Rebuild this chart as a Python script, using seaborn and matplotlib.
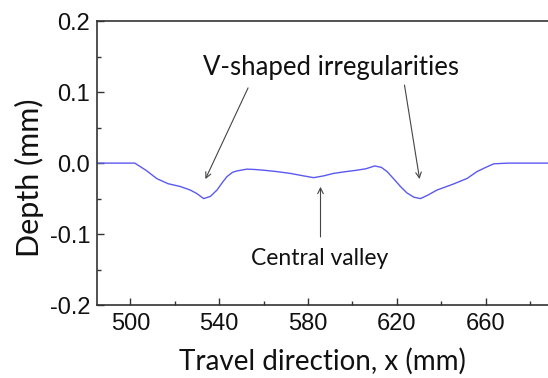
import matplotlib
matplotlib.use("Agg")
import matplotlib.pyplot as plt
import seaborn as sns
import pandas as pd
from matplotlib.ticker import MultipleLocator

# Data
x_mm = [485, 495, 502, 507, 512, 517, 522.5, 527, 530, 533, 536, 539, 541.5, 543.5, 546, 548,
        552.5, 556, 560, 566, 572, 578, 582.5, 587, 591.5, 597, 602, 606, 610, 613, 615.6,
        618.5, 621.6, 624.5, 627.6, 630.6, 634, 638, 645, 651.6, 656, 660, 663.6, 670, 680, 690]
depth_mm = [0.0, 0.0, 0.0, -0.010, -0.022, -0.029, -0.033, -0.038, -0.043, -0.050, -0.047, -0.038,
            -0.027, -0.019, -0.013, -0.011, -0.0085, -0.009, -0.010, -0.012, -0.0145, -0.018,
            -0.0205, -0.018, -0.0145, -0.012, -0.010, -0.008, -0.004, -0.006, -0.012, -0.022,
            -0.033, -0.042, -0.048, -0.050, -0.045, -0.038, -0.030, -0.0216, -0.012, -0.006,
            -0.001, 0.0, 0.0, 0.0]

x_ticks = [500, 540, 580, 620, 660]
y_ticks = [-0.2, -0.1, 0.0, 0.1, 0.2]
y_tick_labels = ["-0.2", "-0.1", "0.0", "0.1", "0.2"]

df = pd.DataFrame({"x": x_mm, "depth": depth_mm})

sns.set_style("ticks")
plt.rcParams["font.family"] = ["Liberation Sans", "DejaVu Sans"]

fig = plt.figure(figsize=(5.48, 3.78), dpi=100)
ax = fig.add_axes([0.177, 0.193, 0.823, 0.751])

sns.lineplot(data=df, x="x", y="depth", ax=ax, color="#5a5af0", linewidth=1.0)

ax.set_xlim(485, 688)
ax.set_ylim(-0.2, 0.2)
ax.set_xticks(x_ticks)
ax.set_yticks(y_ticks)
ax.set_yticklabels(y_tick_labels)
ax.xaxis.set_minor_locator(MultipleLocator(20))
ax.yaxis.set_minor_locator(MultipleLocator(0.05))
ax.tick_params(which="major", direction="in", length=5, width=1, color="#333333",
               labelsize=17, labelcolor="#111111")
ax.tick_params(axis="x", which="major", pad=6)
ax.tick_params(axis="y", which="major", pad=5)
ax.tick_params(which="minor", direction="in", length=3, width=1, color="#333333")
ax.tick_params(axis="y", which="both", right=False)
ax.tick_params(axis="x", which="both", top=False)

for s in ["left", "bottom", "top"]:
    ax.spines[s].set_color("#333333")
    ax.spines[s].set_linewidth(1.2)
    ax.spines[s].set_visible(True)
ax.spines["right"].set_visible(False)

lab_font = ["Lato", "DejaVu Sans"]
ax.set_xlabel("Travel direction, x (mm)", fontsize=20, family=lab_font, labelpad=9, color="#111111")
ax.set_ylabel("Depth (mm)", fontsize=22, family=lab_font, labelpad=4, color="#111111")
ax.yaxis.label.set_y(0.447)

arrow = dict(arrowstyle="->", color="#444444", lw=0.8, shrinkA=0, shrinkB=0)
ax.annotate("", xy=(533.8, -0.0225), xytext=(553, 0.106), arrowprops=arrow)
ax.annotate("", xy=(630.2, -0.0225), xytext=(623.4, 0.110), arrowprops=arrow)
ax.text(590.5, 0.135, "V-shaped irregularities", fontsize=18.5, family=lab_font,
        ha="center", va="center", color="#111111")

ax.annotate("", xy=(585.6, -0.0334), xytext=(585.6, -0.104), arrowprops=arrow)
ax.text(585.4, -0.134, "Central valley", fontsize=16.5, family=lab_font,
        ha="center", va="center", color="#111111")

fig.savefig("out.png", dpi=100)
